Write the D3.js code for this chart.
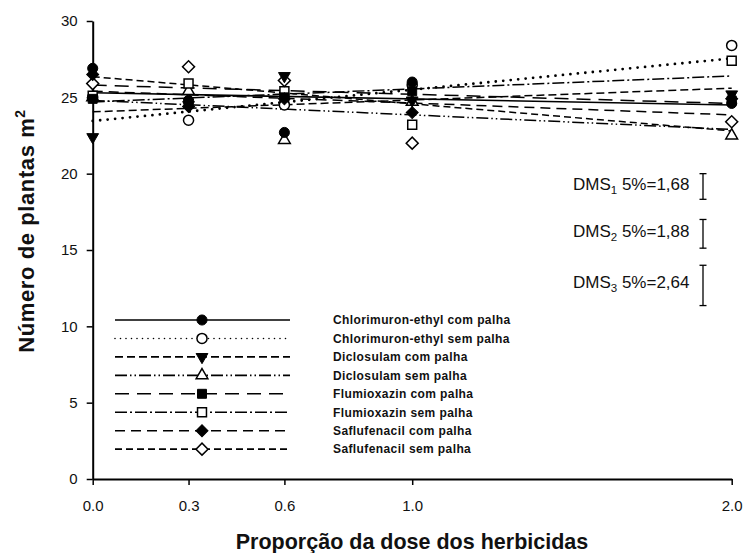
<!DOCTYPE html>
<html>
<head>
<meta charset="utf-8">
<script src="https://cdn.jsdelivr.net/npm/d3@7"></script>
<style>
  html, body { margin: 0; padding: 0; background: #fff; }
  svg { display: block; font-family: "Liberation Sans", Arial, sans-serif; }
</style>
</head>
<body>
<svg id="chart" width="745" height="553"></svg>
<script>
// Herbicide dose proportions (x axis)
const doses = [0, 0.3, 0.6, 1.0, 2.0];
const doseTicks = [0, 0.3, 0.6, 1.0, 2.0];
const yTicks = [0, 5, 10, 15, 20, 25, 30];

// Treatments
const seriesNames = [
  "Chlorimuron-ethyl com palha",
  "Chlorimuron-ethyl sem palha",
  "Diclosulam com palha",
  "Diclosulam sem palha",
  "Flumioxazin com palha",
  "Flumioxazin sem palha",
  "Saflufenacil com palha",
  "Saflufenacil sem palha"
];

// Observed plants per m² at each dose
const chlorimuronCom = [26.9, 24.8, 22.7, 26.0, 24.6];
const chlorimuronSem = [25.0, 23.5, 24.5, 25.8, 28.4];
const diclosulamCom  = [22.4, 24.5, 26.4, 24.8, 25.2];
const diclosulamSem  = [25.0, 25.4, 22.2, 24.7, 22.5];
const flumioxazinCom = [24.9, 24.6, 25.0, 25.4, 24.8];
const flumioxazinSem = [25.1, 25.9, 25.4, 23.2, 27.4];
const saflufenacilCom = [26.5, 24.4, 24.9, 24.0, 24.9];
const saflufenacilSem = [25.9, 27.0, 26.1, 22.0, 23.4];

// Fitted regression values at dose 0 and dose 2
const fitChlorimuronCom = [25.3, 24.5];
const fitChlorimuronSem = [23.45, 27.55];
const fitDiclosulamCom  = [24.05, 25.6];
const fitDiclosulamSem  = [24.8, 22.9];
const fitFlumioxazinCom = [25.8, 24.6];
const fitFlumioxazinSem = [24.7, 26.4];
const fitSaflufenacilCom = [25.4, 23.85];
const fitSaflufenacilSem = [26.35, 22.8];
const fitDoses = [0, 2.0];

// Least significant differences (5%)
const dmsLabels = ["1", "2", "3"];
const dmsValues = [1.68, 1.88, 2.64];

const observed = [chlorimuronCom, chlorimuronSem, diclosulamCom, diclosulamSem,
                  flumioxazinCom, flumioxazinSem, saflufenacilCom, saflufenacilSem];
const fitted = [fitChlorimuronCom, fitChlorimuronSem, fitDiclosulamCom, fitDiclosulamSem,
                fitFlumioxazinCom, fitFlumioxazinSem, fitSaflufenacilCom, fitSaflufenacilSem];

// Line and marker styling per treatment
const styles = [
  { dash: null, width: 1.6, cap: "butt", legendDash: null, symbol: d3.symbolCircle, size: 80, filled: true, rot: 0 },
  { dash: "0,7.5", width: 2.8, cap: "round", legendDash: "0,5.5", symbol: d3.symbolCircle, size: 80, filled: false, rot: 0 },
  { dash: "8,4", width: 1.5, cap: "butt", legendDash: "8,4", symbol: d3.symbolTriangle, size: 60, filled: true, rot: 180 },
  { dash: "12,3,1.5,3,1.5,3", width: 1.5, cap: "butt", legendDash: "12,3,1.5,3,1.5,3", symbol: d3.symbolTriangle, size: 60, filled: false, rot: 0 },
  { dash: "14,8", width: 1.5, cap: "butt", legendDash: "14,8", symbol: d3.symbolSquare, size: 80, filled: true, rot: 0 },
  { dash: "12,3,2,3", width: 1.5, cap: "butt", legendDash: "12,3,2,3", symbol: d3.symbolSquare, size: 80, filled: false, rot: 0 },
  { dash: "10,6", width: 1.5, cap: "butt", legendDash: "10,6", symbol: d3.symbolSquare, size: 72, filled: true, rot: 45 },
  { dash: "7,4", width: 1.5, cap: "butt", legendDash: "7,4", symbol: d3.symbolSquare, size: 72, filled: false, rot: 45 }
];

const svg = d3.select("#chart");

const x = d3.scaleLinear().domain([0, 2]).range([92.7, 731.7]);
const y = d3.scaleLinear().domain([0, 30]).range([479, 21]);

// Axes
const yAxis = svg.append("g")
  .attr("transform", `translate(${x(0)},0)`)
  .call(d3.axisLeft(y).tickValues(yTicks).tickFormat(d3.format("d"))
    .tickSize(6).tickSizeOuter(0).tickPadding(9));
yAxis.select(".domain").attr("stroke", "#000").attr("stroke-width", 2);
yAxis.selectAll(".tick line").attr("stroke", "#000").attr("stroke-width", 1.5);
yAxis.selectAll(".tick text").attr("font-size", 15).attr("fill", "#111")
  .attr("font-family", "Liberation Sans, Arial, sans-serif");

const xAxis = svg.append("g")
  .attr("transform", `translate(0,${y(0)})`)
  .call(d3.axisBottom(x).tickValues(doseTicks).tickFormat(d3.format(".1f"))
    .tickSize(6).tickSizeOuter(0).tickPadding(15));
xAxis.select(".domain").attr("stroke", "#000").attr("stroke-width", 2);
xAxis.selectAll(".tick line").attr("stroke", "#000").attr("stroke-width", 1.5);
xAxis.selectAll(".tick text").attr("font-size", 15).attr("fill", "#111")
  .attr("font-family", "Liberation Sans, Arial, sans-serif");

// Axis titles
svg.append("text")
  .attr("x", 412).attr("y", 549)
  .attr("text-anchor", "middle")
  .attr("font-size", 21.5).attr("font-weight", "bold").attr("fill", "#111")
  .text("Proporção da dose dos herbicidas");

const yTitle = svg.append("text")
  .attr("transform", "translate(34,231) rotate(-90)")
  .attr("text-anchor", "middle")
  .attr("font-size", 22).attr("font-weight", "bold").attr("fill", "#111")
  .attr("letter-spacing", 0.6);
yTitle.append("tspan").text("Número de plantas m");
yTitle.append("tspan").attr("font-size", 14).attr("dy", -9).text("2");

// Regression lines
const lineGen = d3.line().x(d => x(d[0])).y(d => y(d[1]));
const linesG = svg.append("g");
fitted.forEach((f, i) => {
  const s = styles[i];
  linesG.append("path")
    .datum(fitDoses.map((d, k) => [d, f[k]]))
    .attr("d", lineGen)
    .attr("fill", "none")
    .attr("stroke", "#000")
    .attr("stroke-width", s.width)
    .attr("stroke-linecap", s.cap)
    .attr("stroke-dasharray", s.dash);
});

// Observed points: open markers underneath, filled on top
function drawMarker(g, s, cx, cy) {
  const path = d3.symbol().type(s.symbol).size(s.size)();
  g.append("path")
    .attr("d", path)
    .attr("transform", `translate(${cx},${cy}) rotate(${s.rot})`)
    .attr("fill", s.filled ? "#000" : "#fff")
    .attr("stroke", "#000")
    .attr("stroke-width", s.filled ? 1 : 1.5);
}
const pointsG = svg.append("g");
const order = [1, 3, 5, 7, 0, 2, 4, 6];
order.forEach(i => {
  observed[i].forEach((v, k) => drawMarker(pointsG, styles[i], x(doses[k]), y(v)));
});

// Legend
const legend = svg.append("g");
seriesNames.forEach((name, i) => {
  const s = styles[i];
  const ly = 320 + i * 18.45;
  legend.append("line")
    .attr("x1", 115).attr("x2", 290).attr("y1", ly).attr("y2", ly)
    .attr("stroke", "#000")
    .attr("stroke-width", 1.6)
    .attr("stroke-linecap", s.cap)
    .attr("stroke-dasharray", s.legendDash);
  drawMarker(legend, s, 202, ly);
  legend.append("text")
    .attr("x", 333).attr("y", ly).attr("dy", "0.36em")
    .attr("font-size", 12).attr("font-weight", "bold").attr("fill", "#111")
    .attr("letter-spacing", 0.4)
    .text(name);
});

// Least significant difference bars
const dmsTops = [20, 17, 14];
const barX = 703;
dmsValues.forEach((v, i) => {
  const top = y(dmsTops[i]);
  const bottom = y(dmsTops[i] - v);
  const g = svg.append("g");
  g.append("line").attr("x1", barX).attr("x2", barX).attr("y1", top).attr("y2", bottom)
    .attr("stroke", "#000").attr("stroke-width", 1.3);
  [top, bottom].forEach(yy => g.append("line")
    .attr("x1", barX - 3.5).attr("x2", barX + 3.5).attr("y1", yy).attr("y2", yy)
    .attr("stroke", "#000").attr("stroke-width", 1.3));
  const t = g.append("text")
    .attr("x", 573).attr("y", [190, 236.7, 288.3][i])
    .attr("font-size", 17).attr("fill", "#111");
  t.append("tspan").text("DMS");
  t.append("tspan").attr("font-size", 11.5).attr("dy", 4).text(dmsLabels[i]);
  t.append("tspan").attr("dy", -4).text(" 5%=" + d3.format(".2f")(v).replace(".", ","));
});
</script>
</body>
</html>
